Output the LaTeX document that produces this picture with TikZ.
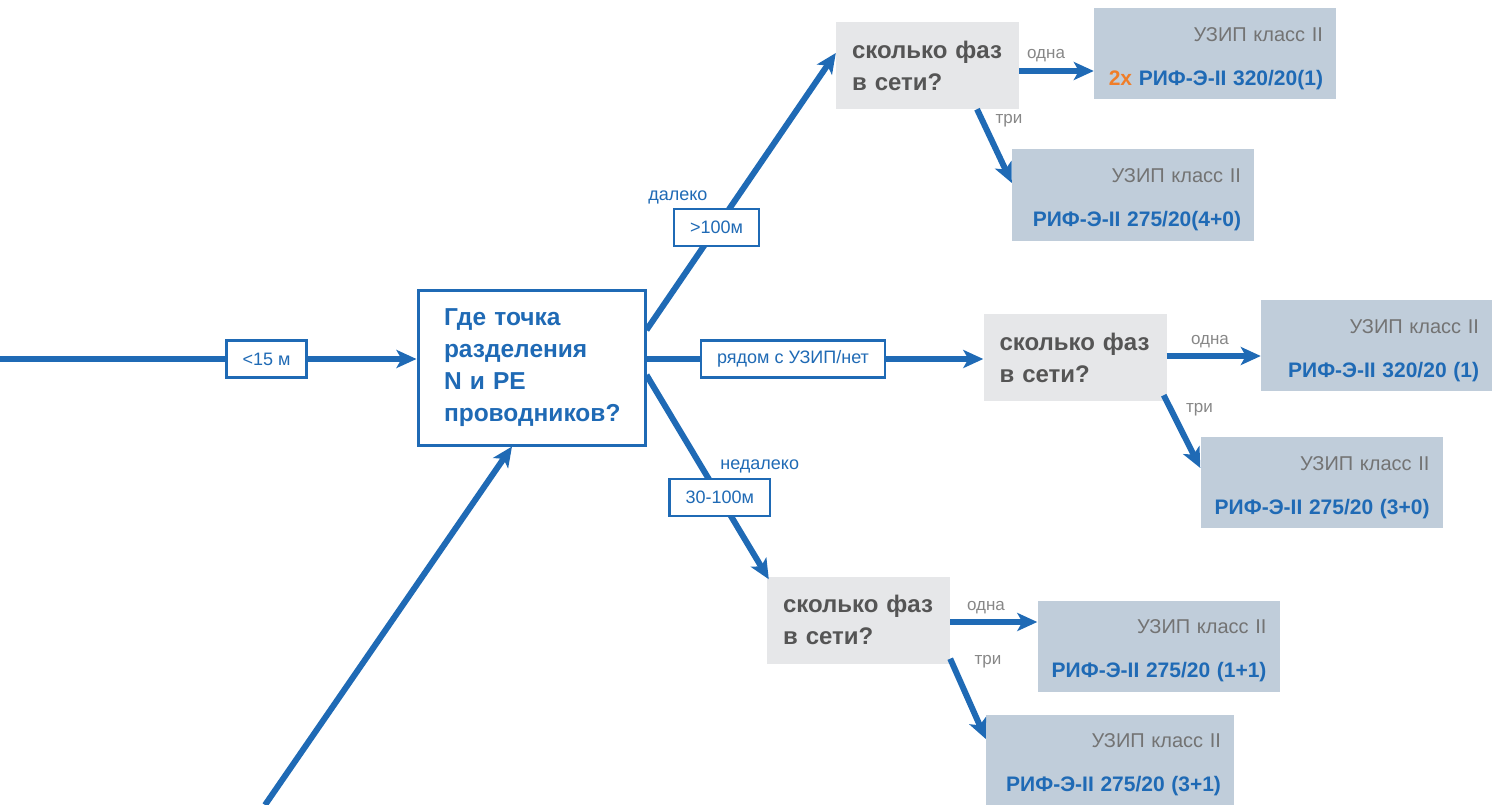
\documentclass[tikz,border=0pt]{standalone}
\usepackage{fontspec}
\setmainfont{Liberation Sans}
\usetikzlibrary{arrows.meta}
\definecolor{rifblue}{RGB}{31,106,181}
\definecolor{qfill}{RGB}{230,231,233}
\definecolor{afill}{RGB}{192,205,218}
\definecolor{qtext}{RGB}{85,85,85}
\definecolor{atext}{RGB}{115,115,115}
\definecolor{ctext}{RGB}{135,135,135}
\definecolor{twox}{RGB}{240,125,40}
\newcommand{\uzipline}{\rule{0pt}{24pt}{\color{atext}УЗИП класс II}}
\newcommand{\rifline}{\fontsize{21pt}{44pt}\selectfont\bfseries\color{rifblue}}

\begin{document}
\begin{tikzpicture}[x=1pt,y=-1pt,
  link/.style={draw=rifblue, line width=6pt, -{Stealth[length=20pt,width=18pt,inset=5pt]}},
  mainq/.style={draw=rifblue, line width=3pt, fill=white, text=rifblue, align=left, text width=175pt, inner xsep=26pt, minimum height=155pt, font=\fontsize{24.5pt}{32pt}\selectfont\bfseries},
  question/.style={fill=qfill, text=qtext, align=left, text width=151pt, inner xsep=16pt, minimum height=87pt, font=\fontsize{24pt}{32pt}\selectfont\bfseries},
  answer/.style={fill=afill, align=right, text width=216pt, inner xsep=13pt, minimum height=91pt, font=\fontsize{20pt}{44pt}\selectfont},
  dist/.style={draw=rifblue, line width=2.5pt, fill=white, text=rifblue, inner xsep=16pt, minimum height=37pt, font=\fontsize{18pt}{22pt}\selectfont},
  note/.style={text=rifblue, inner sep=0pt, font=\fontsize{18pt}{22pt}\selectfont},
  choice/.style={text=ctext, inner sep=0pt, font=\fontsize{17pt}{20pt}\selectfont}
  ]
  \useasboundingbox (0,0) rectangle (1501,805);

  \node[mainq] (where) at (531.5,367.5) {Где точка\\разделения\\N и PE\\проводников?};

  \node[question] (q1) at (927.5,65.5) {сколько фаз\\в сети?};
  \node[question] (q2) at (1075,357.5) {сколько фаз\\в сети?};
  \node[question] (q3) at (858.5,620) {сколько фаз\\в сети?};

  \node[answer] (a1) at (1215,53.5) {\uzipline\\{\rifline{\color{twox}2x} РИФ-Э-II 320/20(1)}};
  \node[answer] (a2) at (1133,195) {\uzipline\\{\rifline РИФ-Э-II 275/20(4+0)}};
  \node[answer, text width=205pt] (a3) at (1376.5,345.5) {\uzipline\\{\rifline РИФ-Э-II 320/20 (1)}};
  \node[answer] (a4) at (1321.5,482.5) {\uzipline\\{\rifline РИФ-Э-II 275/20 (3+0)}};
  \node[answer] (a5) at (1158.5,646) {\uzipline\\{\rifline РИФ-Э-II 275/20 (1+1)}};
  \node[answer, text width=222pt] (a6) at (1110,760) {\uzipline\\{\rifline РИФ-Э-II 275/20 (3+1)}};

  \coordinate (src) at (0,359);
  \coordinate (src2) at (265,805);

  \draw[link] (src) -- node[dist,pos=0.64] (near) {<15 м} ([yshift=8.5pt]where.west);
  \draw[link] (src2) -- ([xshift=-19.5pt]where.south);

  \draw[link] ([yshift=37.5pt]where.east) -- node[dist,pos=0.37] (far) {>100м} node[note,pos=0.48,left=27pt] (farlbl) {далеко} ([yshift=12.5pt]q1.west);
  \draw[link] ([yshift=8.5pt]where.east) -- node[dist,pos=0.435] (beside) {рядом с УЗИП/нет} ([yshift=-1.5pt]q2.west);
  \draw[link] ([yshift=-7.5pt]where.east) -- node[dist,pos=0.6] (mid) {30-100м} node[note,pos=0.449,right=16pt] (midlbl) {недалеко} ([xshift=2pt,yshift=-3pt]q3.north west);

  \coordinate (q1o) at ([yshift=-5.5pt]q1.east);
  \coordinate (q2o) at ([yshift=1.5pt]q2.east);
  \coordinate (q3o) at ([yshift=-2pt]q3.east);

  \draw[link] (q1o) -- node[choice,pos=0.36,above=6pt] (one1) {одна} (q1o -| a1.west);
  \draw[link] ([xshift=49.5pt]q1.south) -- node[choice,pos=0.16,right=10pt] (three1) {три} ([yshift=12pt]a2.west);
  \draw[link] (q2o) -- node[choice,pos=0.46,above=5pt] (one2) {одна} (q2o -| a3.west);
  \draw[link] ([xshift=-3pt,yshift=6pt]q2.south east) -- node[choice,pos=0.2,right=12pt] (three2) {три} ([yshift=14.5pt]a4.west);
  \draw[link] (q3o) -- node[choice,pos=0.41,above=5pt] (one3) {одна} (q3o -| a5.west);
  \draw[link] ([yshift=5pt]q3.south east) -- node[choice,pos=0.04,right=20pt] (three3) {три} ([yshift=21pt]a6.west);
\end{tikzpicture}
\end{document}
